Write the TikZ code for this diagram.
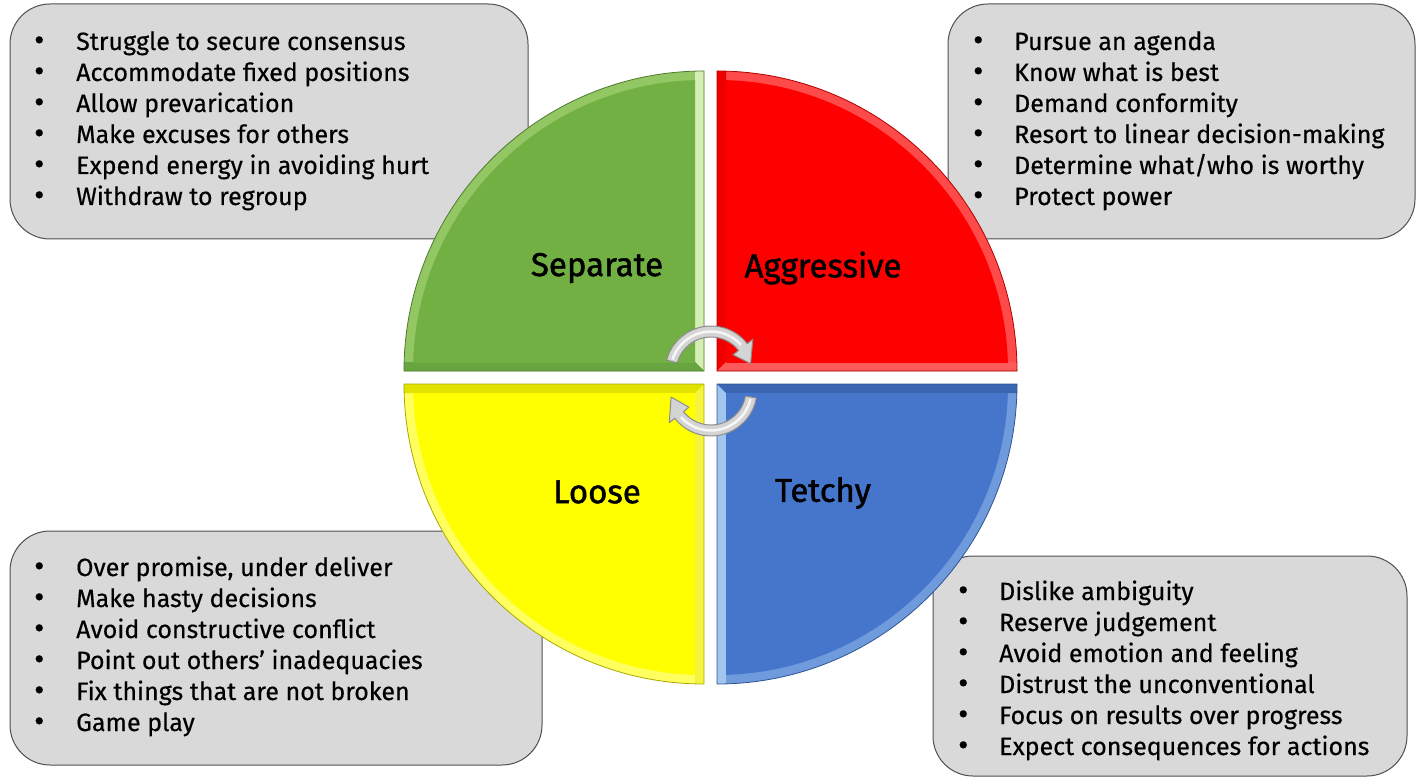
\documentclass[tikz,border=0pt]{standalone}
\usepackage{fontspec}
\setmainfont{Fira Sans}[FakeBold=0.4]
\newfontfamily\lblfont{Fira Sans}[FakeBold=1.4]
\definecolor{boxgray}{HTML}{D9D9D9}
\definecolor{boxline}{HTML}{505050}
\definecolor{gArc}{HTML}{92C764}\definecolor{gV}{HTML}{D4EEB4}\definecolor{gH}{HTML}{68A540}\definecolor{gMain}{HTML}{72B043}\definecolor{gLine}{HTML}{4E7A2E}
\definecolor{rArc}{HTML}{FF4A4A}\definecolor{rV}{HTML}{EE0000}\definecolor{rH}{HTML}{FF5A5A}\definecolor{rMain}{HTML}{FF0000}\definecolor{rLine}{HTML}{B00000}
\definecolor{yArc}{HTML}{FFFF60}\definecolor{yV}{HTML}{F4F440}\definecolor{yH}{HTML}{E2E200}\definecolor{yMain}{HTML}{FFFF00}\definecolor{yLine}{HTML}{A8A800}
\definecolor{bArc}{HTML}{6F9BDC}\definecolor{bV}{HTML}{A0C6F0}\definecolor{bH}{HTML}{3B66B2}\definecolor{bMain}{HTML}{4676CC}\definecolor{bLine}{HTML}{2F528F}
\definecolor{arrowfill}{HTML}{D4D4D4}
\definecolor{arrowline}{HTML}{8C8C8C}
\begin{document}
\begin{tikzpicture}[x=1pt,y=-1pt,
  infobox/.style={fill=boxgray, draw=boxline, line width=1pt, rounded corners=40pt},
  listtext/.style={anchor=base west, inner sep=0pt, font=\fontsize{25}{31}\selectfont},
  qlabel/.style={inner sep=0pt, font=\lblfont\fontsize{33}{38}\selectfont},
  arrowst/.style={fill=arrowfill, draw=arrowline, line width=1pt, line join=round},
  outline/.style={line width=0.8pt}]
\useasboundingbox (0,0) rectangle (1417,778);
\newcommand{\bl}{\makebox[42pt][l]{\raisebox{-0.5pt}{\scalebox{1.25}{•}}}}
\newcommand{\br}{\makebox[41pt][l]{\raisebox{-0.5pt}{\scalebox{1.25}{•}}}}

% boxes
\draw[infobox] (10,4) rectangle (528,239);
\draw[infobox] (948,4) rectangle (1415,239);
\draw[infobox] (10,531) rectangle (542,765);
\draw[infobox] (933,556) rectangle (1407,776);

% green quadrant
\fill[gArc] (704,371) -- (404,371) arc[start angle=180,end angle=270,radius=300] -- cycle;
\begin{scope}
\clip (704,371) -- (404,371) arc[start angle=180,end angle=270,radius=300] -- cycle;
\fill[gV] (695,60) -- (704,60) -- (704,371) -- (695,362) -- cycle;
\fill[gH] (394,362) -- (695,362) -- (704,371) -- (394,371) -- cycle;
\clip (394,60) rectangle (695,362);
\fill[gMain] (704,371) circle (291);
\end{scope}
\draw[gLine, outline] (704,371) -- (404,371) arc[start angle=180,end angle=270,radius=300] -- cycle;

% red quadrant
\fill[rArc] (717,371) -- (717,71) arc[start angle=270,end angle=360,radius=300] -- cycle;
\begin{scope}
\clip (717,371) -- (717,71) arc[start angle=270,end angle=360,radius=300] -- cycle;
\fill[rV] (717,60) -- (726,60) -- (726,362) -- (717,371) -- cycle;
\fill[rH] (717,371) -- (726,362) -- (1030,362) -- (1030,371) -- cycle;
\clip (726,60) rectangle (1030,362);
\fill[rMain] (717,371) circle (291);
\end{scope}
\draw[rLine, outline] (717,371) -- (717,71) arc[start angle=270,end angle=360,radius=300] -- cycle;

% yellow quadrant
\fill[yArc] (704,384) -- (404,384) arc[start angle=180,end angle=90,radius=300] -- cycle;
\begin{scope}
\clip (704,384) -- (404,384) arc[start angle=180,end angle=90,radius=300] -- cycle;
\fill[yV] (704,384) -- (695,393) -- (695,700) -- (704,700) -- cycle;
\fill[yH] (394,384) -- (704,384) -- (695,393) -- (394,393) -- cycle;
\clip (394,393) rectangle (695,700);
\fill[yMain] (704,384) circle (291);
\end{scope}
\draw[yLine, outline] (704,384) -- (404,384) arc[start angle=180,end angle=90,radius=300] -- cycle;

% blue quadrant
\fill[bArc] (717,384) -- (1017,384) arc[start angle=0,end angle=90,radius=300] -- cycle;
\begin{scope}
\clip (717,384) -- (1017,384) arc[start angle=0,end angle=90,radius=300] -- cycle;
\fill[bV] (717,384) -- (726,393) -- (726,700) -- (717,700) -- cycle;
\fill[bH] (717,384) -- (1030,384) -- (1030,393) -- (726,393) -- cycle;
\clip (726,393) rectangle (1030,700);
\fill[bMain] (717,384) circle (291);
\end{scope}
\draw[bLine, outline] (717,384) -- (1017,384) arc[start angle=0,end angle=90,radius=300] -- cycle;

% circular arrows
\draw[arrowst, shift={(711,372)}] (195:46) arc[start angle=195,end angle=322,radius=46] -- (322:53) -- (348:40.5) -- (322:28) -- (322:35) arc[start angle=322,end angle=195,radius=35] -- cycle;
\draw[white, line width=2.5pt, opacity=.8, shift={(711,372)}] (198:40.5) arc[start angle=198,end angle=318,radius=40.5];
\draw[arrowst, shift={(711,390)}] (10:46) arc[start angle=10,end angle=142,radius=46] -- (142:53) -- (170:40.5) -- (142:28) -- (142:35) arc[start angle=142,end angle=10,radius=35] -- cycle;
\draw[white, line width=2.5pt, opacity=.8, shift={(711,390)}] (13:40.5) arc[start angle=13,end angle=138,radius=40.5];

% quadrant labels
\node[qlabel] (sep) at (597,268) {Separate};
\node[qlabel] (agg) at (823,268) {Aggressive};
\node[qlabel] (loo) at (597,492) {Loose};
\node[qlabel] (tet) at (823,493) {Tetchy};

% lists
\node[listtext] (lTL) at (34,50) {\begin{tabular}[t]{@{}l@{}}
\bl Struggle to secure consensus\\
\bl Accommodate fixed positions\\
\bl Allow prevarication\\
\bl Make excuses for others\\
\bl Expend energy in avoiding hurt\\
\bl Withdraw to regroup\end{tabular}};
\node[listtext] (lTR) at (973,50) {\begin{tabular}[t]{@{}l@{}}
\br Pursue an agenda\\
\br Know what is best\\
\br Demand conformity\\
\br Resort to linear decision-making\\
\br Determine what/who is worthy\\
\br Protect power\end{tabular}};
\node[listtext] (lBL) at (34,576) {\begin{tabular}[t]{@{}l@{}}
\bl Over promise, under deliver\\
\bl Make hasty decisions\\
\bl Avoid constructive conflict\\
\bl Point out others’ inadequacies\\
\bl Fix things that are not broken\\
\bl Game play\end{tabular}};
\node[listtext] (lBR) at (958,600) {\begin{tabular}[t]{@{}l@{}}
\br Dislike ambiguity\\
\br Reserve judgement\\
\br Avoid emotion and feeling\\
\br Distrust the unconventional\\
\br Focus on results over progress\\
\br Expect consequences for actions\end{tabular}};
\end{tikzpicture}
\end{document}
